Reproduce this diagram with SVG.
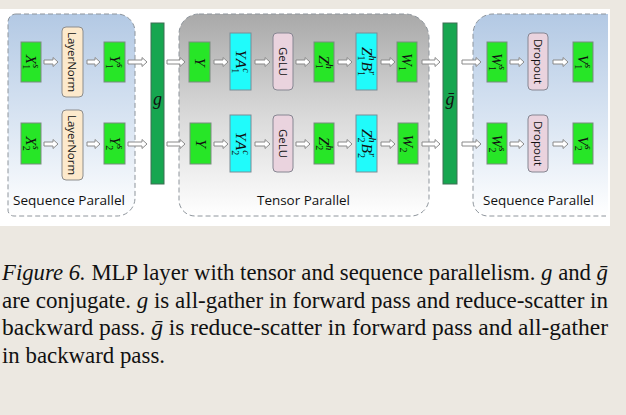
<svg xmlns="http://www.w3.org/2000/svg" width="626" height="415" viewBox="0 0 626 415">
<defs>
<linearGradient id="blueG" x1="0" y1="0" x2="0" y2="1">
<stop offset="0" stop-color="#b3c9e4"/><stop offset="0.55" stop-color="#dbe6f3"/><stop offset="1" stop-color="#ffffff"/>
</linearGradient>
<linearGradient id="grayG" x1="0" y1="0" x2="0" y2="1">
<stop offset="0" stop-color="#a9a9a9"/><stop offset="0.5" stop-color="#d9d9d9"/><stop offset="1" stop-color="#ffffff"/>
</linearGradient>
<style>
.region{stroke:#8e959c;stroke-width:1;stroke-dasharray:5 3;}
.rl{font-family:"Open Sans","Liberation Sans",sans-serif;font-size:13.5px;fill:#111;}
.green{fill:#27e627;stroke:#7b8b80;stroke-width:1;}
.cyan{fill:#20fbfb;stroke:#7b8c96;stroke-width:1;}
.pink{fill:#ead3de;stroke:#868692;stroke-width:1;}
.ln{fill:#fce9cc;stroke:#8d8d8d;stroke-width:1;}
.bar{fill:#17a650;stroke:#3f6e55;stroke-width:1;}
.m{font-family:"Liberation Serif","DejaVu Serif",serif;font-style:italic;font-size:15.5px;fill:#111;}
.s{font-size:10px;}
.u{font-style:normal;}
.big{font-size:18px;}
.t{font-family:"Open Sans","Liberation Sans",sans-serif;font-size:11.5px;fill:#111;}
.arr{fill:#ffffff;stroke:#8a8a8a;stroke-width:1;}
.cap{font-family:"Liberation Serif","Times New Roman",serif;font-size:22.5px;fill:#111;}
.it{font-style:italic;}
</style>
</defs>
<rect x="0" y="0" width="626" height="415" fill="#ece8e1"/>
<rect x="0" y="9" width="610" height="217" fill="#ffffff"/>

<g id="region-left">
<path class="region" fill="url(#blueG)" d="M16,14 H117 A18,18 0 0 1 135,32 V198 A18,18 0 0 1 117,216 H14 A6,6 0 0 1 8,210 V22 A8,8 0 0 1 16,14 Z"/>
<text class="rl" x="13" y="205" textLength="112" lengthAdjust="spacingAndGlyphs">Sequence Parallel</text>
</g>
<g id="region-middle">
<path class="region" fill="url(#grayG)" d="M199,14 H405 A24,24 0 0 1 429,38 V198 A18,18 0 0 1 411,216 H195 A16,16 0 0 1 179,200 V34 A20,20 0 0 1 199,14 Z"/>
<text class="rl" x="257" y="205" textLength="93" lengthAdjust="spacingAndGlyphs">Tensor Parallel</text>
</g>
<g id="region-right">
<path fill="url(#blueG)" d="M493,14 H608 V216 H488 A15,15 0 0 1 473,201 V34 A20,20 0 0 1 493,14 Z"/>
<path class="region" fill="none" d="M606,14 H493 A20,20 0 0 0 473,34 V201 A15,15 0 0 0 488,216 H606"/>
<text class="rl" x="483" y="205" textLength="111" lengthAdjust="spacingAndGlyphs">Sequence Parallel</text>
</g>

<g id="connectors">
<path class="arr" d="M44,60 H53 V57.5 L58,62 L53,66.5 V64 H44 Z"/>
<path class="arr" d="M87,60 H95 V57.5 L100,62 L95,66.5 V64 H87 Z"/>
<path class="arr" d="M128,60 H142 V57.5 L147,62 L142,66.5 V64 H128 Z"/>
<path class="arr" d="M167,60 H180 V57.5 L185,62 L180,66.5 V64 H167 Z"/>
<path class="arr" d="M214,60 H223 V57.5 L228,62 L223,66.5 V64 H214 Z"/>
<path class="arr" d="M255,60 H265 V57.5 L270,62 L265,66.5 V64 H255 Z"/>
<path class="arr" d="M296,60 H305 V57.5 L310,62 L305,66.5 V64 H296 Z"/>
<path class="arr" d="M338,60 H347 V57.5 L352,62 L347,66.5 V64 H338 Z"/>
<path class="arr" d="M381,60 H390 V57.5 L395,62 L390,66.5 V64 H381 Z"/>
<path class="arr" d="M422,60 H435 V57.5 L440,62 L435,66.5 V64 H422 Z"/>
<path class="arr" d="M462,60 H476 V57.5 L481,62 L476,66.5 V64 H462 Z"/>
<path class="arr" d="M510,60 H519 V57.5 L524,62 L519,66.5 V64 H510 Z"/>
<path class="arr" d="M553,60 H563 V57.5 L568,62 L563,66.5 V64 H553 Z"/>

<path class="arr" d="M44,142 H53 V139.5 L58,144 L53,148.5 V146 H44 Z"/>
<path class="arr" d="M87,142 H95 V139.5 L100,144 L95,148.5 V146 H87 Z"/>
<path class="arr" d="M128,142 H142 V139.5 L147,144 L142,148.5 V146 H128 Z"/>
<path class="arr" d="M167,142 H180 V139.5 L185,144 L180,148.5 V146 H167 Z"/>
<path class="arr" d="M214,142 H223 V139.5 L228,144 L223,148.5 V146 H214 Z"/>
<path class="arr" d="M255,142 H265 V139.5 L270,144 L265,148.5 V146 H255 Z"/>
<path class="arr" d="M296,142 H305 V139.5 L310,144 L305,148.5 V146 H296 Z"/>
<path class="arr" d="M338,142 H347 V139.5 L352,144 L347,148.5 V146 H338 Z"/>
<path class="arr" d="M381,142 H390 V139.5 L395,144 L390,148.5 V146 H381 Z"/>
<path class="arr" d="M422,142 H435 V139.5 L440,144 L435,148.5 V146 H422 Z"/>
<path class="arr" d="M462,142 H476 V139.5 L481,144 L476,148.5 V146 H462 Z"/>
<path class="arr" d="M510,142 H519 V139.5 L524,144 L519,148.5 V146 H510 Z"/>
<path class="arr" d="M553,142 H563 V139.5 L568,144 L563,148.5 V146 H553 Z"/>
</g>

<g id="x1s"><rect class="green" x="21" y="42" width="20" height="40"/>
<text class="m" transform="translate(31,62) rotate(90)" text-anchor="middle" y="5">X<tspan class="s u" dy="3.5">1</tspan><tspan class="s" dx="-5" dy="-10.5">s</tspan></text></g>
<g id="x2s"><rect class="green" x="21" y="123" width="20" height="41"/>
<text class="m" transform="translate(31,143.5) rotate(90)" text-anchor="middle" y="5">X<tspan class="s u" dy="3.5">2</tspan><tspan class="s" dx="-5" dy="-10.5">s</tspan></text></g>
<g id="layernorm1"><rect class="ln" x="62" y="27" width="21" height="70" rx="4"/>
<text class="t" transform="translate(72.5,62) rotate(90)" text-anchor="middle" dominant-baseline="central">LayerNorm</text></g>
<g id="layernorm2"><rect class="ln" x="62" y="110" width="21" height="70" rx="4"/>
<text class="t" transform="translate(72.5,145) rotate(90)" text-anchor="middle" dominant-baseline="central">LayerNorm</text></g>
<g id="y1s"><rect class="green" x="104" y="42" width="21" height="40"/>
<text class="m" transform="translate(114.5,62) rotate(90)" text-anchor="middle" y="5">Y<tspan class="s u" dy="3.5">1</tspan><tspan class="s" dx="-5" dy="-10.5">s</tspan></text></g>
<g id="y2s"><rect class="green" x="104" y="123" width="21" height="41"/>
<text class="m" transform="translate(114.5,143.5) rotate(90)" text-anchor="middle" y="5">Y<tspan class="s u" dy="3.5">2</tspan><tspan class="s" dx="-5" dy="-10.5">s</tspan></text></g>

<g id="g-op"><rect class="bar" x="151" y="23" width="13" height="161"/>
<text class="m big" x="157.5" y="105" text-anchor="middle">g</text></g>

<g id="y-a"><rect class="green" x="189" y="42" width="21" height="40"/>
<text class="m" transform="translate(199.5,62) rotate(90)" text-anchor="middle" y="5">Y</text></g>
<g id="y-b"><rect class="green" x="190" y="123" width="21" height="41"/>
<text class="m" transform="translate(200.5,143.5) rotate(90)" text-anchor="middle" y="5">Y</text></g>
<g id="ya1"><rect class="cyan" x="230" y="33" width="21" height="57"/>
<text class="m" transform="translate(240.5,61.5) rotate(90)" text-anchor="middle" y="5">Y<tspan dx="1.5">A</tspan><tspan class="s u" dy="3.5">1</tspan><tspan class="s" dx="-5" dy="-10.5">c</tspan></text></g>
<g id="ya2"><rect class="cyan" x="230" y="115" width="21" height="57"/>
<text class="m" transform="translate(240.5,143.5) rotate(90)" text-anchor="middle" y="5">Y<tspan dx="1.5">A</tspan><tspan class="s u" dy="3.5">2</tspan><tspan class="s" dx="-5" dy="-10.5">c</tspan></text></g>
<g id="gelu1"><rect class="pink" x="273" y="33" width="20" height="57" rx="4"/>
<text class="t" transform="translate(283,61.5) rotate(90)" text-anchor="middle" dominant-baseline="central">GeLU</text></g>
<g id="gelu2"><rect class="pink" x="273" y="115" width="20" height="57" rx="4"/>
<text class="t" transform="translate(283,143.5) rotate(90)" text-anchor="middle" dominant-baseline="central">GeLU</text></g>
<g id="z1h"><rect class="green" x="314" y="42" width="20" height="40"/>
<text class="m" transform="translate(324,62) rotate(90)" text-anchor="middle" y="5">Z<tspan class="s u" dy="3.5">1</tspan><tspan class="s" dx="-5" dy="-10.5">h</tspan></text></g>
<g id="z2h"><rect class="green" x="314" y="123" width="20" height="41"/>
<text class="m" transform="translate(324,143.5) rotate(90)" text-anchor="middle" y="5">Z<tspan class="s u" dy="3.5">2</tspan><tspan class="s" dx="-5" dy="-10.5">h</tspan></text></g>
<g id="zb1"><rect class="cyan" x="356" y="33" width="21" height="57"/>
<text class="m" transform="translate(366.5,61.5) rotate(90)" text-anchor="middle" y="5">Z<tspan class="s u" dy="3.5">1</tspan><tspan class="s" dx="-5" dy="-10.5">h</tspan><tspan dx="1" dy="7">B</tspan><tspan class="s u" dy="3.5">1</tspan><tspan class="s" dx="-5" dy="-10.5">r</tspan></text></g>
<g id="zb2"><rect class="cyan" x="356" y="115" width="21" height="57"/>
<text class="m" transform="translate(366.5,143.5) rotate(90)" text-anchor="middle" y="5">Z<tspan class="s u" dy="3.5">2</tspan><tspan class="s" dx="-5" dy="-10.5">h</tspan><tspan dx="1" dy="7">B</tspan><tspan class="s u" dy="3.5">2</tspan><tspan class="s" dx="-5" dy="-10.5">r</tspan></text></g>
<g id="w1"><rect class="green" x="397" y="42" width="20" height="40"/>
<text class="m" transform="translate(407,62) rotate(90)" text-anchor="middle" y="5">W<tspan class="s u" dy="3.5">1</tspan></text></g>
<g id="w2"><rect class="green" x="398" y="123" width="20" height="41"/>
<text class="m" transform="translate(408,143.5) rotate(90)" text-anchor="middle" y="5">W<tspan class="s u" dy="3.5">2</tspan></text></g>

<g id="gbar-op"><rect class="bar" x="443" y="23" width="14" height="161"/>
<text class="m big" x="450" y="105" text-anchor="middle">ḡ</text></g>

<g id="w1s"><rect class="green" x="487" y="42" width="20" height="40"/>
<text class="m" transform="translate(497,62) rotate(90)" text-anchor="middle" y="5">W<tspan class="s u" dy="3.5">1</tspan><tspan class="s" dx="-5" dy="-10.5">s</tspan></text></g>
<g id="w2s"><rect class="green" x="487" y="123" width="20" height="41"/>
<text class="m" transform="translate(497,143.5) rotate(90)" text-anchor="middle" y="5">W<tspan class="s u" dy="3.5">2</tspan><tspan class="s" dx="-5" dy="-10.5">s</tspan></text></g>
<g id="dropout1"><rect class="pink" x="528" y="33" width="20" height="57" rx="4"/>
<text class="t" transform="translate(538,61.5) rotate(90)" text-anchor="middle" dominant-baseline="central">Dropout</text></g>
<g id="dropout2"><rect class="pink" x="528" y="115" width="20" height="57" rx="4"/>
<text class="t" transform="translate(538,143.5) rotate(90)" text-anchor="middle" dominant-baseline="central">Dropout</text></g>
<g id="v1s"><rect class="green" x="573" y="42" width="20" height="40"/>
<text class="m" transform="translate(583,62) rotate(90)" text-anchor="middle" y="5">V<tspan class="s u" dy="3.5">1</tspan><tspan class="s" dx="-5" dy="-10.5">s</tspan></text></g>
<g id="v2s"><rect class="green" x="573" y="123" width="20" height="41"/>
<text class="m" transform="translate(583,143.5) rotate(90)" text-anchor="middle" y="5">V<tspan class="s u" dy="3.5">2</tspan><tspan class="s" dx="-5" dy="-10.5">s</tspan></text></g>

<g id="caption">
<text class="cap" x="2" y="280" textLength="606" lengthAdjust="spacingAndGlyphs"><tspan class="it">Figure 6.</tspan> MLP layer with tensor and sequence parallelism. <tspan class="it">g</tspan> and <tspan class="it">ḡ</tspan></text>
<text class="cap" x="2" y="307.5" textLength="606" lengthAdjust="spacingAndGlyphs">are conjugate. <tspan class="it">g</tspan> is all-gather in forward pass and reduce-scatter in</text>
<text class="cap" x="2" y="335" textLength="606" lengthAdjust="spacingAndGlyphs">backward pass. <tspan class="it">ḡ</tspan> is reduce-scatter in forward pass and all-gather</text>
<text class="cap" x="2" y="362.5" textLength="163" lengthAdjust="spacingAndGlyphs">in backward pass.</text>
</g>
</svg>
